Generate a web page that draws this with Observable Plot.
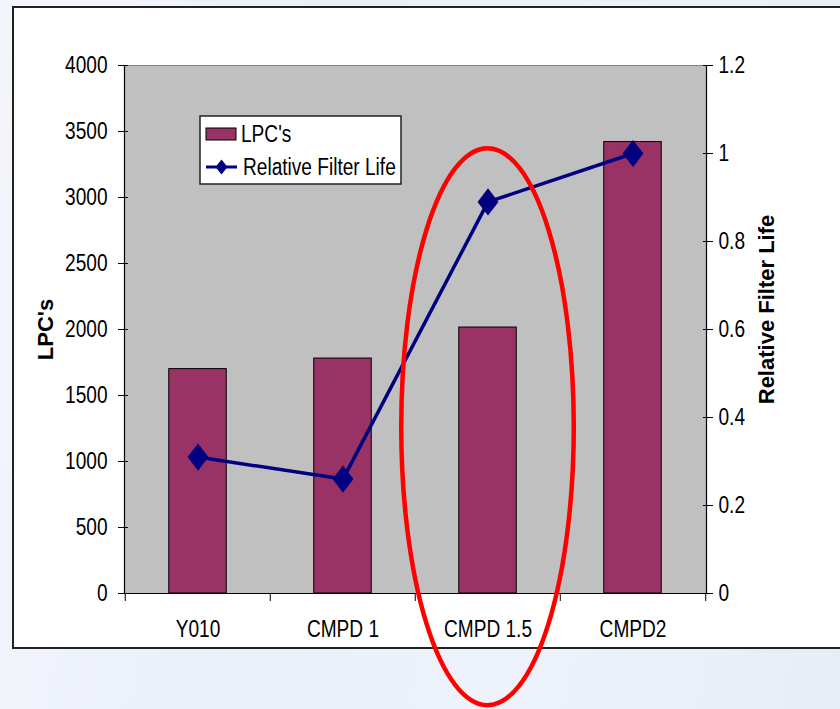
<!DOCTYPE html>
<html>
<head>
<meta charset="utf-8">
<script src="https://cdn.jsdelivr.net/npm/d3@7"></script>
<script src="https://cdn.jsdelivr.net/npm/@observablehq/plot@0.6"></script>
<style>
  html, body { margin: 0; padding: 0; }
  body {
    width: 840px; height: 709px; overflow: hidden; position: relative;
    background: linear-gradient(100deg, #f4f6fc 0%, #eaeff9 35%, #eef2fa 65%, #e7edf7 100%);
    font-family: "Liberation Sans", Arial, sans-serif;
  }
  #box { position: absolute; left: 12px; top: 6px; width: 840px; height: 639px; background: #fff; border: 2px solid #222; }
  #chart { position: absolute; left: 0; top: 0; }
  #legend { position: absolute; left: 199px; top: 115px; }
</style>
</head>
<body>
<div id="box"></div>
<div id="chart"></div>
<div id="legend"></div>
<script>
// ---- data ----
const categories = ["Y010", "CMPD 1", "CMPD 1.5", "CMPD2"];
const lpcValues = [1700, 1780, 2015, 3420];
const filterLife = [0.31, 0.26, 0.89, 1.0];
const lpcTicks = [0, 500, 1000, 1500, 2000, 2500, 3000, 3500, 4000];
const lifeTicks = [0, 0.2, 0.4, 0.6, 0.8, 1.0, 1.2];
const seriesNames = ["LPC's", "Relative Filter Life"];
const leftTitle = "LPC's";
const rightTitle = "Relative Filter Life";
const highlighted = "CMPD 1.5";

// ---- layout / style ----
const W = 840, H = 709;
const mL = 124, mR = 134, mT = 65, mB = 116;
const bw = (W - mL - mR) / categories.length;
const lpcMax = 4000, lifeMax = 1.2;
const k = lpcMax / lifeMax;
const barColor = "#993366";
const lineColor = "#000080";
const FONT = "'Liberation Sans', Arial, sans-serif";
const CONDENSE = 0.83;

const rows = categories.map((c, i) => ({cat: c, lpc: lpcValues[i], life: filterLife[i]}));

// Excel-like diamond (slightly taller than wide)
const diamond = {
  draw(ctx, size) {
    const s = Math.sqrt(size);
    const w = s * 0.5, h = s * 0.65;
    ctx.moveTo(0, -h); ctx.lineTo(w, 0); ctx.lineTo(0, h); ctx.lineTo(-w, 0); ctx.closePath();
  }
};

const lifeTickPos = lifeTicks.map(t => t * k);

const chart = Plot.plot({
  width: W, height: H,
  marginLeft: mL, marginRight: mR, marginTop: mT, marginBottom: mB,
  style: {background: "transparent", fontFamily: FONT, fontSize: "23px", color: "#000", overflow: "visible"},
  x: {type: "band", domain: categories, padding: 0},
  y: {domain: [0, lpcMax]},
  marks: [
    Plot.frame({fill: "#c0c0c0", stroke: "#808080"}),
    Plot.barY(rows, {x: "cat", y: "lpc", fill: barColor, stroke: "#000", strokeWidth: 1, insetLeft: 43.75, insetRight: 43.75}),
    Plot.frame({anchor: "left", stroke: "#000", strokeWidth: 1.2}),
    Plot.frame({anchor: "right", stroke: "#000", strokeWidth: 1.2}),
    Plot.frame({anchor: "bottom", stroke: "#000", strokeWidth: 1.2}),
    // x axis: boundary ticks + labels
    Plot.axisX({tickSize: 8, dx: -bw / 2, fill: "none", label: null, stroke: "#000"}),
    Plot.axisX([categories[categories.length - 1]], {tickSize: 8, dx: bw / 2, fill: "none", label: null, stroke: "#000"}),
    Plot.axisX({tickSize: 0, tickPadding: 27, label: null, fontSize: 23, fill: "#000"}),
    // left axis
    Plot.axisY(lpcTicks, {anchor: "left", tickSize: 10, dx: 4, fill: "none", label: null, stroke: "#000"}),
    Plot.axisY(lpcTicks, {anchor: "left", tickSize: 0, tickPadding: 17, label: null, fontSize: 23, fill: "#000",
      tickFormat: d => String(d)}),
    // right axis
    Plot.axisY(lifeTickPos, {anchor: "right", tickSize: 10, dx: -4, fill: "none", label: null, stroke: "#000"}),
    Plot.axisY(lifeTickPos, {anchor: "right", tickSize: 0, tickPadding: 12, label: null, fontSize: 23, fill: "#000",
      tickFormat: d => String(+(d / k).toFixed(2))}),
    // axis titles
    Plot.text([leftTitle], {text: d => d, frameAnchor: "left", textAnchor: "middle", dx: -79, rotate: -90, fontWeight: "bold", fontSize: 22, fill: "#000"}),
    Plot.text([rightTitle], {text: d => d, frameAnchor: "right", textAnchor: "middle", dx: 60, dy: -20, rotate: -90, fontWeight: "bold", fontSize: 22, fill: "#000"}),
    // line series
    Plot.line(rows, {x: "cat", y: d => d.life * k, stroke: lineColor, strokeWidth: 3.5}),
    Plot.dot(rows, {x: "cat", y: d => d.life * k, symbol: diamond, r: 11.8, fill: lineColor, stroke: "none"})
  ]
});
document.getElementById("chart").appendChild(chart);

// Narrow (condensed) look of the horizontal texts, as in the reference
function condense(root) {
  root.querySelectorAll("text").forEach(t => {
    const tr = t.getAttribute("transform") || "";
    if (tr.includes("rotate")) return;
    const len = t.getComputedTextLength();
    if (len > 0) {
      t.setAttribute("textLength", (len * CONDENSE).toFixed(2));
      t.setAttribute("lengthAdjust", "spacingAndGlyphs");
    }
  });
}
condense(chart);

// red highlight ellipse around the highlighted category, via the chart's scales
{
  const xs = chart.scale("x"), ys = chart.scale("y");
  const cx = xs.apply(highlighted) + xs.bandwidth / 2;
  const yTop = ys.apply(3370), yBot = ys.apply(-850);
  d3.select(chart).append("ellipse")
    .attr("cx", cx).attr("cy", (yTop + yBot) / 2)
    .attr("rx", xs.bandwidth * 0.595).attr("ry", (yBot - yTop) / 2)
    .attr("fill", "none").attr("stroke", "#ff0000").attr("stroke-width", 4.5);
}

// legend
{
  const lg = d3.select("#legend").append("svg").attr("width", 260).attr("height", 72)
    .style("overflow", "visible")
    .style("font-family", FONT).style("font-size", "23px");
  lg.append("rect").attr("x", 1).attr("y", 1).attr("width", 201).attr("height", 68)
    .attr("fill", "#fff").attr("stroke", "#222").attr("stroke-width", 1.5);
  lg.append("rect").attr("x", 7).attr("y", 13).attr("width", 30).attr("height", 12)
    .attr("fill", barColor).attr("stroke", "#000").attr("stroke-width", 1);
  lg.append("text").attr("x", 42).attr("y", 27).text(seriesNames[0]);
  lg.append("line").attr("x1", 7).attr("x2", 38).attr("y1", 52).attr("y2", 52)
    .attr("stroke", lineColor).attr("stroke-width", 3);
  lg.append("path").attr("d", "M22.5,44.5L28.5,52L22.5,59.5L16.5,52Z").attr("fill", lineColor);
  lg.append("text").attr("x", 44).attr("y", 60).text(seriesNames[1]);
  condense(lg.node());
}
</script>
</body>
</html>
